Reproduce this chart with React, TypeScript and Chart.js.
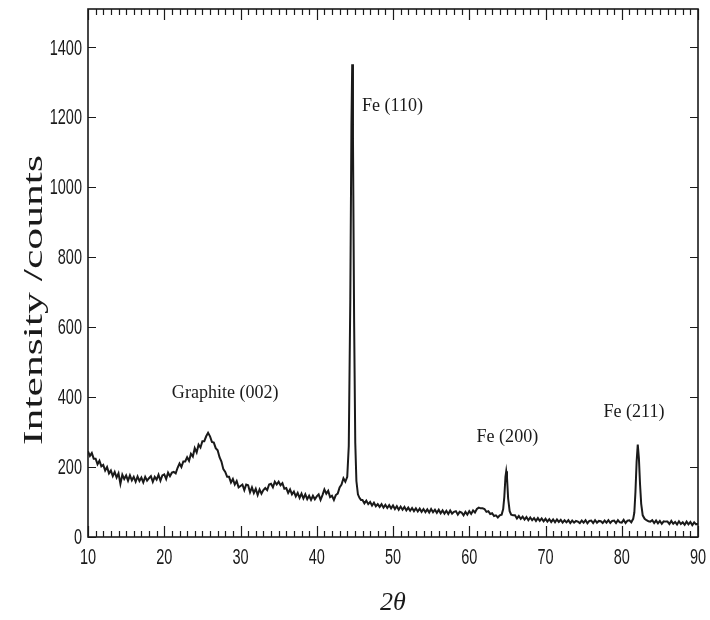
import { useEffect, useRef } from "react";
import { Chart, registerables } from "chart.js";

Chart.register(...registerables);

// 2θ positions (degrees)
const twoTheta = [
  10.0, 10.25, 10.5, 10.75, 11.0, 11.25, 11.5, 11.75,
  12.0, 12.25, 12.5, 12.75, 13.0, 13.25, 13.5, 13.75,
  14.0, 14.25, 14.5, 14.75, 15.0, 15.25, 15.5, 15.75,
  16.0, 16.25, 16.5, 16.75, 17.0, 17.25, 17.5, 17.75,
  18.0, 18.25, 18.5, 18.75, 19.0, 19.25, 19.5, 19.75,
  20.0, 20.25, 20.5, 20.75, 21.0, 21.25, 21.5, 21.75,
  22.0, 22.25, 22.5, 22.75, 23.0, 23.25, 23.5, 23.75,
  24.0, 24.25, 24.5, 24.75, 25.0, 25.25, 25.5, 25.75,
  26.0, 26.25, 26.5, 26.75, 27.0, 27.25, 27.5, 27.75,
  28.0, 28.25, 28.5, 28.75, 29.0, 29.25, 29.5, 29.75,
  30.0, 30.25, 30.5, 30.75, 31.0, 31.25, 31.5, 31.75,
  32.0, 32.25, 32.5, 32.75, 33.0, 33.25, 33.5, 33.75,
  34.0, 34.25, 34.5, 34.75, 35.0, 35.25, 35.5, 35.75,
  36.0, 36.25, 36.5, 36.75, 37.0, 37.25, 37.5, 37.75,
  38.0, 38.25, 38.5, 38.75, 39.0, 39.25, 39.5, 39.75,
  40.0, 40.25, 40.5, 40.75, 41.0, 41.25, 41.5, 41.75,
  42.0, 42.25, 42.5, 42.75, 43.0, 43.25, 43.5, 43.75,
  44.0, 44.2, 44.4, 44.55, 44.65, 44.75, 44.9, 45.05,
  45.2, 45.4, 45.6, 45.8,
  46.0, 46.25, 46.5, 46.75, 47.0, 47.25, 47.5, 47.75,
  48.0, 48.25, 48.5, 48.75, 49.0, 49.25, 49.5, 49.75,
  50.0, 50.25, 50.5, 50.75, 51.0, 51.25, 51.5, 51.75,
  52.0, 52.25, 52.5, 52.75, 53.0, 53.25, 53.5, 53.75,
  54.0, 54.25, 54.5, 54.75, 55.0, 55.25, 55.5, 55.75,
  56.0, 56.25, 56.5, 56.75, 57.0, 57.25, 57.5, 57.75,
  58.0, 58.25, 58.5, 58.75, 59.0, 59.25, 59.5, 59.75,
  60.0, 60.25, 60.5, 60.75, 61.0, 61.25, 61.5, 61.75,
  62.0, 62.25, 62.5, 62.75, 63.0, 63.25, 63.5, 63.75,
  64.0, 64.25, 64.45, 64.6, 64.75, 64.85, 64.95, 65.1,
  65.3, 65.5, 65.75,
  66.0, 66.25, 66.5, 66.75, 67.0, 67.25, 67.5, 67.75,
  68.0, 68.25, 68.5, 68.75, 69.0, 69.25, 69.5, 69.75,
  70.0, 70.25, 70.5, 70.75, 71.0, 71.25, 71.5, 71.75,
  72.0, 72.25, 72.5, 72.75, 73.0, 73.25, 73.5, 73.75,
  74.0, 74.25, 74.5, 74.75, 75.0, 75.25, 75.5, 75.75,
  76.0, 76.25, 76.5, 76.75, 77.0, 77.25, 77.5, 77.75,
  78.0, 78.25, 78.5, 78.75, 79.0, 79.25, 79.5, 79.75,
  80.0, 80.25, 80.5, 80.75, 81.0, 81.25, 81.5, 81.65,
  81.8, 81.95, 82.1, 82.25, 82.4, 82.55, 82.75, 83.0,
  83.25, 83.5, 83.75,
  84.0, 84.25, 84.5, 84.75, 85.0, 85.25, 85.5, 85.75,
  86.0, 86.25, 86.5, 86.75, 87.0, 87.25, 87.5, 87.75,
  88.0, 88.25, 88.5, 88.75, 89.0, 89.25, 89.5, 89.75,
  90.0,
];

// Intensity (counts)
const intensity = [
  245, 232, 240, 224, 224, 208, 218, 202,
  206, 190, 200, 182, 190, 174, 186, 170,
  182, 152, 178, 166, 176, 161, 176, 162,
  172, 158, 173, 160, 170, 156, 172, 161,
  168, 174, 158, 172, 164, 178, 161, 176,
  179, 166, 184, 174, 184, 186, 182, 198,
  210, 200, 216, 216, 228, 218, 238, 230,
  254, 242, 264, 256, 274, 274, 288, 298,
  288, 272, 270, 254, 248, 228, 216, 194,
  186, 172, 172, 156, 166, 150, 160, 142,
  146, 150, 134, 150, 148, 128, 142, 126,
  138, 120, 136, 124, 134, 140, 134, 150,
  152, 142, 158, 150, 158, 148, 154, 138,
  140, 126, 136, 122, 130, 116, 126, 112,
  124, 110, 122, 108, 118, 106, 118, 108,
  116, 122, 106, 120, 136, 124, 132, 114,
  118, 106, 120, 124, 142, 150, 168, 158,
  172, 260, 680, 1180, 1352, 1140, 620, 270,
  160, 122, 112, 106,
  106, 96, 104, 94, 100, 90, 98, 88,
  94, 86, 94, 84, 92, 83, 91, 82,
  90, 80, 88, 78, 87, 78, 86, 76,
  84, 75, 83, 74, 82, 73, 81, 72,
  80, 71, 79, 70, 80, 71, 78, 69,
  78, 68, 76, 67, 75, 66, 76, 67,
  72, 74, 64, 72, 70, 62, 72, 64,
  74, 66, 76, 70, 80, 84, 82, 82,
  80, 72, 74, 66, 68, 60, 62, 56,
  62, 64, 80, 115, 172, 188, 170, 110,
  74, 64, 62,
  62, 53, 60, 52, 58, 50, 57, 48,
  56, 48, 54, 46, 54, 46, 53, 45,
  52, 44, 51, 43, 50, 42, 50, 43,
  49, 41, 48, 42, 48, 40, 47, 41,
  46, 44, 40, 47, 41, 48, 39, 46,
  47, 40, 48, 41, 46, 45, 40, 47,
  41, 48, 40, 46, 47, 40, 48, 42,
  41, 49, 40, 47, 48, 42, 52, 70,
  130, 215, 264, 225, 150, 95, 62, 52,
  48, 45, 44,
  48, 40, 47, 39, 46, 38, 45, 44,
  44, 37, 46, 38, 43, 36, 45, 37,
  42, 35, 44, 36, 43, 34, 42, 36,
  38,
];

const xTickValues = [10, 20, 30, 40, 50, 60, 70, 80, 90];
const yTickValues = [0, 200, 400, 600, 800, 1000, 1200, 1400];

const xAxisTitle = "2θ";
const yAxisTitle = "Intensity /counts";

const peakLabels = ["Graphite (002)", "Fe (110)", "Fe (200)", "Fe (211)"];
const peakLabelX = [28.0, 45.93, 65.0, 81.6];
const peakLabelY = [412, 1232, 286, 357];
const peakLabelAlign = ["center", "left", "center", "center"];

const INK = "#1a1a1a";

function drawScaledText(
  ctx: CanvasRenderingContext2D,
  text: string,
  x: number,
  y: number,
  font: string,
  sx: number,
  align: CanvasTextAlign
) {
  ctx.save();
  ctx.font = font;
  ctx.textBaseline = "middle";
  ctx.textAlign = align;
  ctx.translate(x, y);
  ctx.scale(sx, 1);
  ctx.fillText(text, 0, 0);
  ctx.restore();
}

const decorPlugin = {
  id: "decor",
  afterDraw(chart: any) {
    const ctx: CanvasRenderingContext2D = chart.ctx;
    const { left, right, top, bottom } = chart.chartArea;
    const xs = chart.scales.x;
    const ys = chart.scales.y;
    ctx.save();
    ctx.strokeStyle = INK;
    ctx.fillStyle = INK;

    // frame
    ctx.lineWidth = 1.6;
    ctx.strokeRect(left, top, right - left, bottom - top);

    // x ticks (major every 10, minor every 1), inward on bottom & top
    ctx.lineWidth = 1.2;
    ctx.beginPath();
    for (let v = 10; v <= 90; v += 1) {
      const px = Math.round(xs.getPixelForValue(v)) + 0.5;
      const len = v % 10 === 0 ? 11 : 6;
      ctx.moveTo(px, bottom);
      ctx.lineTo(px, bottom - len);
      ctx.moveTo(px, top);
      ctx.lineTo(px, top + len);
    }
    // y ticks inward on left & right
    for (const t of ys.ticks) {
      const py = Math.round(ys.getPixelForValue(t.value)) + 0.5;
      ctx.moveTo(left, py);
      ctx.lineTo(left + 8, py);
      ctx.moveTo(right, py);
      ctx.lineTo(right - 8, py);
    }
    ctx.stroke();

    // tick labels
    const tickFont = "22px 'Liberation Sans', Arial, sans-serif";
    for (const t of xs.ticks) {
      const px = xs.getPixelForValue(t.value);
      drawScaledText(ctx, String(t.value), px, bottom + 21, tickFont, 0.66, "center");
    }
    for (const t of ys.ticks) {
      const py = ys.getPixelForValue(t.value);
      drawScaledText(ctx, String(t.value), left - 6, py + 1, tickFont, 0.66, "right");
    }

    // peak annotations
    const annFont = "19px 'Liberation Serif', 'Times New Roman', serif";
    for (let i = 0; i < peakLabels.length; i++) {
      const px = xs.getPixelForValue(peakLabelX[i]);
      const py = ys.getPixelForValue(peakLabelY[i]);
      drawScaledText(ctx, peakLabels[i], px, py, annFont, 0.95, peakLabelAlign[i] as CanvasTextAlign);
    }

    // y axis title
    ctx.save();
    ctx.font = "28px 'Liberation Serif', 'Times New Roman', serif";
    const w = ctx.measureText(yAxisTitle).width;
    const sx = 290 / w;
    ctx.translate(35, 300);
    ctx.rotate(-Math.PI / 2);
    ctx.scale(sx, 1);
    ctx.textAlign = "center";
    ctx.textBaseline = "middle";
    ctx.fillText(yAxisTitle, 0, 0);
    ctx.restore();

    // x axis title
    ctx.save();
    ctx.font = "italic 26px 'Liberation Serif', 'Times New Roman', serif";
    ctx.textAlign = "center";
    ctx.textBaseline = "middle";
    ctx.fillText(xAxisTitle, (left + right) / 2, 603);
    ctx.restore();

    ctx.restore();
  },
};

export default function App() {
  const canvasRef = useRef<HTMLCanvasElement | null>(null);

  useEffect(() => {
    const canvas = canvasRef.current;
    if (!canvas) return;
    const chart = new Chart(canvas, {
      type: "line",
      data: {
        datasets: [
          {
            data: twoTheta.map((x, i) => ({ x, y: intensity[i] })),
            borderColor: INK,
            borderWidth: 2,
            pointRadius: 0,
            tension: 0,
            fill: false,
          },
        ],
      },
      options: {
        animation: false,
        responsive: false,
        devicePixelRatio: 1,
        layout: { padding: { top: 9, right: 12, left: 0, bottom: 0 } },
        plugins: {
          legend: { display: false },
          tooltip: { enabled: false },
          title: { display: false },
        },
        scales: {
          x: {
            type: "linear",
            min: 10,
            max: 90,
            grid: { display: false, drawTicks: false },
            border: { display: false },
            ticks: { display: false },
            afterBuildTicks: (scale: any) => {
              scale.ticks = xTickValues.map((v) => ({ value: v }));
            },
            afterFit: (scale: any) => {
              scale.height = 83;
            },
          },
          y: {
            type: "linear",
            min: 0,
            max: 1510,
            grid: { display: false, drawTicks: false },
            border: { display: false },
            ticks: { display: false },
            afterBuildTicks: (scale: any) => {
              scale.ticks = yTickValues.map((v) => ({ value: v }));
            },
            afterFit: (scale: any) => {
              scale.width = 88;
            },
          },
        },
      } as any,
      plugins: [decorPlugin],
    });
    return () => chart.destroy();
  }, []);

  return (
    <>
      <style>{"body{margin:0;overflow:hidden;background:#fff}"}</style>
      <canvas ref={canvasRef} width={710} height={620} style={{ display: "block" }} />
    </>
  );
}
